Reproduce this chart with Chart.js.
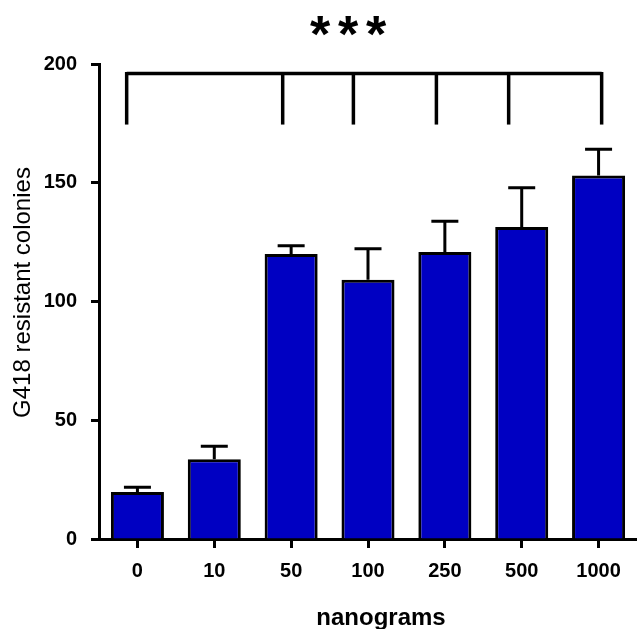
<!DOCTYPE html>
<html lang="en">
<head>
    <meta charset="UTF-8">
    <title>G418 resistant colonies</title>
    <script src="https://cdn.jsdelivr.net/npm/chart.js"></script>
    <style>
        body { margin: 0; background: #fff; overflow: hidden; }
        #wrap { width: 637px; height: 629px; }
    </style>
</head>
<body>
    <div id="wrap">
        <canvas id="colonyChart" width="637" height="629"></canvas>
    </div>

    <script>
        // Chart data
        const doses = ['0', '10', '50', '100', '250', '500', '1000'];
        const colonies = [19.8, 33.6, 120, 109.2, 120.8, 131.4, 153.1];
        const sem = [2, 5.5, 3.5, 13, 13, 16.5, 11];
        const yTicks = [0, 50, 100, 150, 200];

        // significance bracket: leg positions (category units), top and leg end (y units)
        const bracketPos = [-0.14, 1.89, 2.81, 3.89, 4.83, 6.04];
        const bracketTop = 196;
        const bracketLegEnd = 174.5;
        const stars = ['*', '*', '*'];

        const fontFamily = '"Liberation Sans", Arial, sans-serif';

        // error bars (upper only) + bracket + texts
        const extrasPlugin = {
            id: 'extras',
            afterDatasetsDraw(chart) {
                const ctx = chart.ctx;
                const x = chart.scales.x;
                const y = chart.scales.y;
                const meta = chart.getDatasetMeta(0);

                ctx.save();
                ctx.strokeStyle = '#000';
                ctx.lineWidth = 3;
                ctx.lineCap = 'butt';

                // error bars
                const capHalf = 13.5;
                meta.data.forEach((bar, i) => {
                    const cx = bar.x;
                    const yTop = y.getPixelForValue(colonies[i]);
                    const yErr = y.getPixelForValue(colonies[i] + sem[i]);
                    ctx.beginPath();
                    ctx.moveTo(cx, yTop);
                    ctx.lineTo(cx, yErr);
                    ctx.moveTo(cx - capHalf, yErr);
                    ctx.lineTo(cx + capHalf, yErr);
                    ctx.stroke();
                });

                // bracket
                const yb = y.getPixelForValue(bracketTop);
                const yl = y.getPixelForValue(bracketLegEnd);
                ctx.lineWidth = 3.5;
                ctx.beginPath();
                ctx.moveTo(x.getPixelForValue(bracketPos[0]), yb);
                ctx.lineTo(x.getPixelForValue(bracketPos[bracketPos.length - 1]), yb);
                ctx.stroke();
                bracketPos.forEach((p) => {
                    const px = x.getPixelForValue(p);
                    ctx.beginPath();
                    ctx.moveTo(px, yb - 1.5);
                    ctx.lineTo(px, yl);
                    ctx.stroke();
                });

                // texts
                ctx.fillStyle = '#000';
                ctx.textAlign = 'center';
                ctx.textBaseline = 'alphabetic';
                ctx.font = 'bold 52px ' + fontFamily;
                stars.forEach((s, i) => {
                    ctx.fillText(s, 348 + (i - 1) * 28, 52);
                });

                ctx.font = 'bold 24px ' + fontFamily;
                ctx.fillText('nanograms', 381, 625);

                ctx.translate(23, 292.5);
                ctx.rotate(-Math.PI / 2);
                ctx.textBaseline = 'middle';
                ctx.font = '24px ' + fontFamily;
                ctx.fillText('G418 resistant colonies', 0, 0);
                ctx.restore();
            }
        };

        const ctx = document.getElementById('colonyChart').getContext('2d');
        const chart = new Chart(ctx, {
            type: 'bar',
            data: {
                labels: doses,
                datasets: [{
                    data: colonies,
                    backgroundColor: '#0000c2',
                    borderColor: '#000',
                    borderWidth: 3,
                    borderSkipped: 'start',
                    barPercentage: 0.69,
                    categoryPercentage: 1.0,
                }],
            },
            options: {
                responsive: false,
                animation: false,
                layout: { padding: { top: 64, right: -2, left: 0, bottom: 0 } },
                plugins: {
                    legend: { display: false },
                    tooltip: { enabled: false },
                },
                scales: {
                    x: {
                        offset: true,
                        grid: {
                            offset: false,
                            drawOnChartArea: false,
                            drawTicks: true,
                            tickLength: 9,
                            tickWidth: 3,
                            tickColor: '#000',
                        },
                        border: { display: true, color: '#000', width: 3 },
                        ticks: {
                            color: '#000',
                            padding: 11,
                            font: { family: fontFamily, size: 20, weight: 'bold' },
                            maxRotation: 0,
                        },
                        afterFit(scale) { scale.height = 90; },
                    },
                    y: {
                        min: 0,
                        max: 200,
                        afterBuildTicks(scale) {
                            scale.ticks = yTicks.map((v) => ({ value: v }));
                        },
                        grid: {
                            drawOnChartArea: false,
                            drawTicks: true,
                            tickLength: 8,
                            tickWidth: 3,
                            tickColor: '#000',
                        },
                        border: { display: true, color: '#000', width: 3 },
                        ticks: {
                            color: '#000',
                            padding: 14,
                            font: { family: fontFamily, size: 20, weight: 'bold' },
                        },
                        afterFit(scale) { scale.width = 99; },
                    },
                },
            },
            plugins: [extrasPlugin],
        });
    </script>
</body>
</html>
